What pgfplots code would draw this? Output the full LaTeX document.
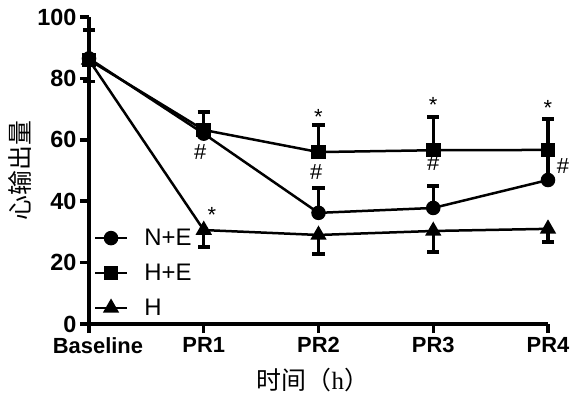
\documentclass[border=0pt]{standalone}
\usepackage{fontspec}
\setmainfont{Liberation Sans}
\newfontfamily\cjk{Noto Sans CJK SC}
\newfontfamily\serif{Liberation Serif}
\usepackage{pgfplots}
\usepackage{pgfplotstable}
\pgfplotsset{compat=1.18}

\pgfplotstableread{
x y ep em
0 86.5 9.3 7.5
1 62.0 0 0
2 36.2 8.1 0
3 37.8 7.2 0
4 46.9 9.5 0
}\dataNE
\pgfplotstableread{
x y ep em
0 86.0 0 0
1 63.2 5.8 0
2 56.0 8.8 0
3 56.6 10.8 0
4 56.7 10.1 0
}\dataHE
\pgfplotstableread{
x y ep em
0 86.0 0 0
1 30.6 0 5.6
2 29.0 0 6.2
3 30.3 0 6.8
4 31.0 0 4.3
}\dataH

\begin{document}
\begin{tikzpicture}
\useasboundingbox (-89bp,-72bp) rectangle (490bp,324bp);
\begin{axis}[
  scale only axis,
  width=459bp, height=307bp,
  xmin=0, xmax=4, ymin=0, ymax=100,
  axis lines=left,
  axis line style={line width=3.5bp, -},
  xtick={0,1,2,3,4},
  xticklabels={\hspace*{18bp}Baseline,PR1,PR2,PR3,PR4},
  ytick={0,20,40,60,80,100},
  tick align=outside,
  major tick length=9bp,
  every tick/.style={line width=3.5bp, black},
  /pgf/number format/assume math mode=true,
  xticklabel style={font=\bfseries\fontsize{22}{26}\selectfont, yshift=-1bp},
  yticklabel style={font=\bfseries\fontsize{23.5}{27}\selectfont},
  every axis y label/.style={at={(axis description cs:-0.150,0.5)}, rotate=90, anchor=center},
  every axis x label/.style={at={(axis description cs:0.488,0)}, anchor=center, yshift=-56bp},
  ylabel={\cjk\fontsize{25}{29}\selectfont 心输出量},
  xlabel={\cjk\fontsize{25}{29}\selectfont 时间（{\serif h}）},
  clip=false,
  legend style={draw=none, fill=none, at={(axis cs:0.04,16.6)}, anchor=west,
    font=\fontsize{24}{28}\selectfont, row sep=13bp, inner sep=0pt,
    /tikz/every odd column/.append style={column sep=14bp}},
  legend cell align=left,
  legend image code/.code={%
    \draw[line width=2.5bp, mark repeat=2, mark phase=2, #1] plot coordinates {(0bp,0bp) (16bp,0bp) (32bp,0bp)};},
  error bars/y explicit,
  error bars/error bar style={line width=3.4bp, black},
  error bars/error mark options={rotate=90, mark size=6bp, line width=3.6bp, black},
]
\addplot[black, line width=2.5bp, mark=*, mark size=6bp, mark options={solid},
  error bars/y dir=both]
  table[x=x, y=y, y error plus=ep, y error minus=em] {\dataNE};
\addlegendentry{N+E}
\addplot[black, line width=2.5bp, mark=square*, mark size=6bp, mark options={solid},
  error bars/y dir=plus]
  table[x=x, y=y, y error plus=ep, y error minus=em] {\dataHE};
\addlegendentry{H+E}
\addplot[black, line width=2.5bp, mark=triangle*, mark size=7bp, mark options={solid},
  error bars/y dir=minus]
  table[x=x, y=y, y error plus=ep, y error minus=em] {\dataH};
\addlegendentry{H}

\node[font=\fontsize{22}{26}\selectfont] at (axis cs:1.07,35.5) {*};
\node[font=\fontsize{22}{26}\selectfont] at (axis cs:2,67.5) {*};
\node[font=\fontsize{22}{26}\selectfont] at (axis cs:3,71.5) {*};
\node[font=\fontsize{22}{26}\selectfont] at (axis cs:4,70.5) {*};
\node[font=\fontsize{22}{26}\selectfont] at (axis cs:0.97,56) {\#};
\node[font=\fontsize{22}{26}\selectfont] at (axis cs:1.98,49.5) {\#};
\node[font=\fontsize{22}{26}\selectfont] at (axis cs:3,52.5) {\#};
\node[font=\fontsize{22}{26}\selectfont] at (axis cs:4.13,51.5) {\#};
\end{axis}
\end{tikzpicture}
\end{document}
